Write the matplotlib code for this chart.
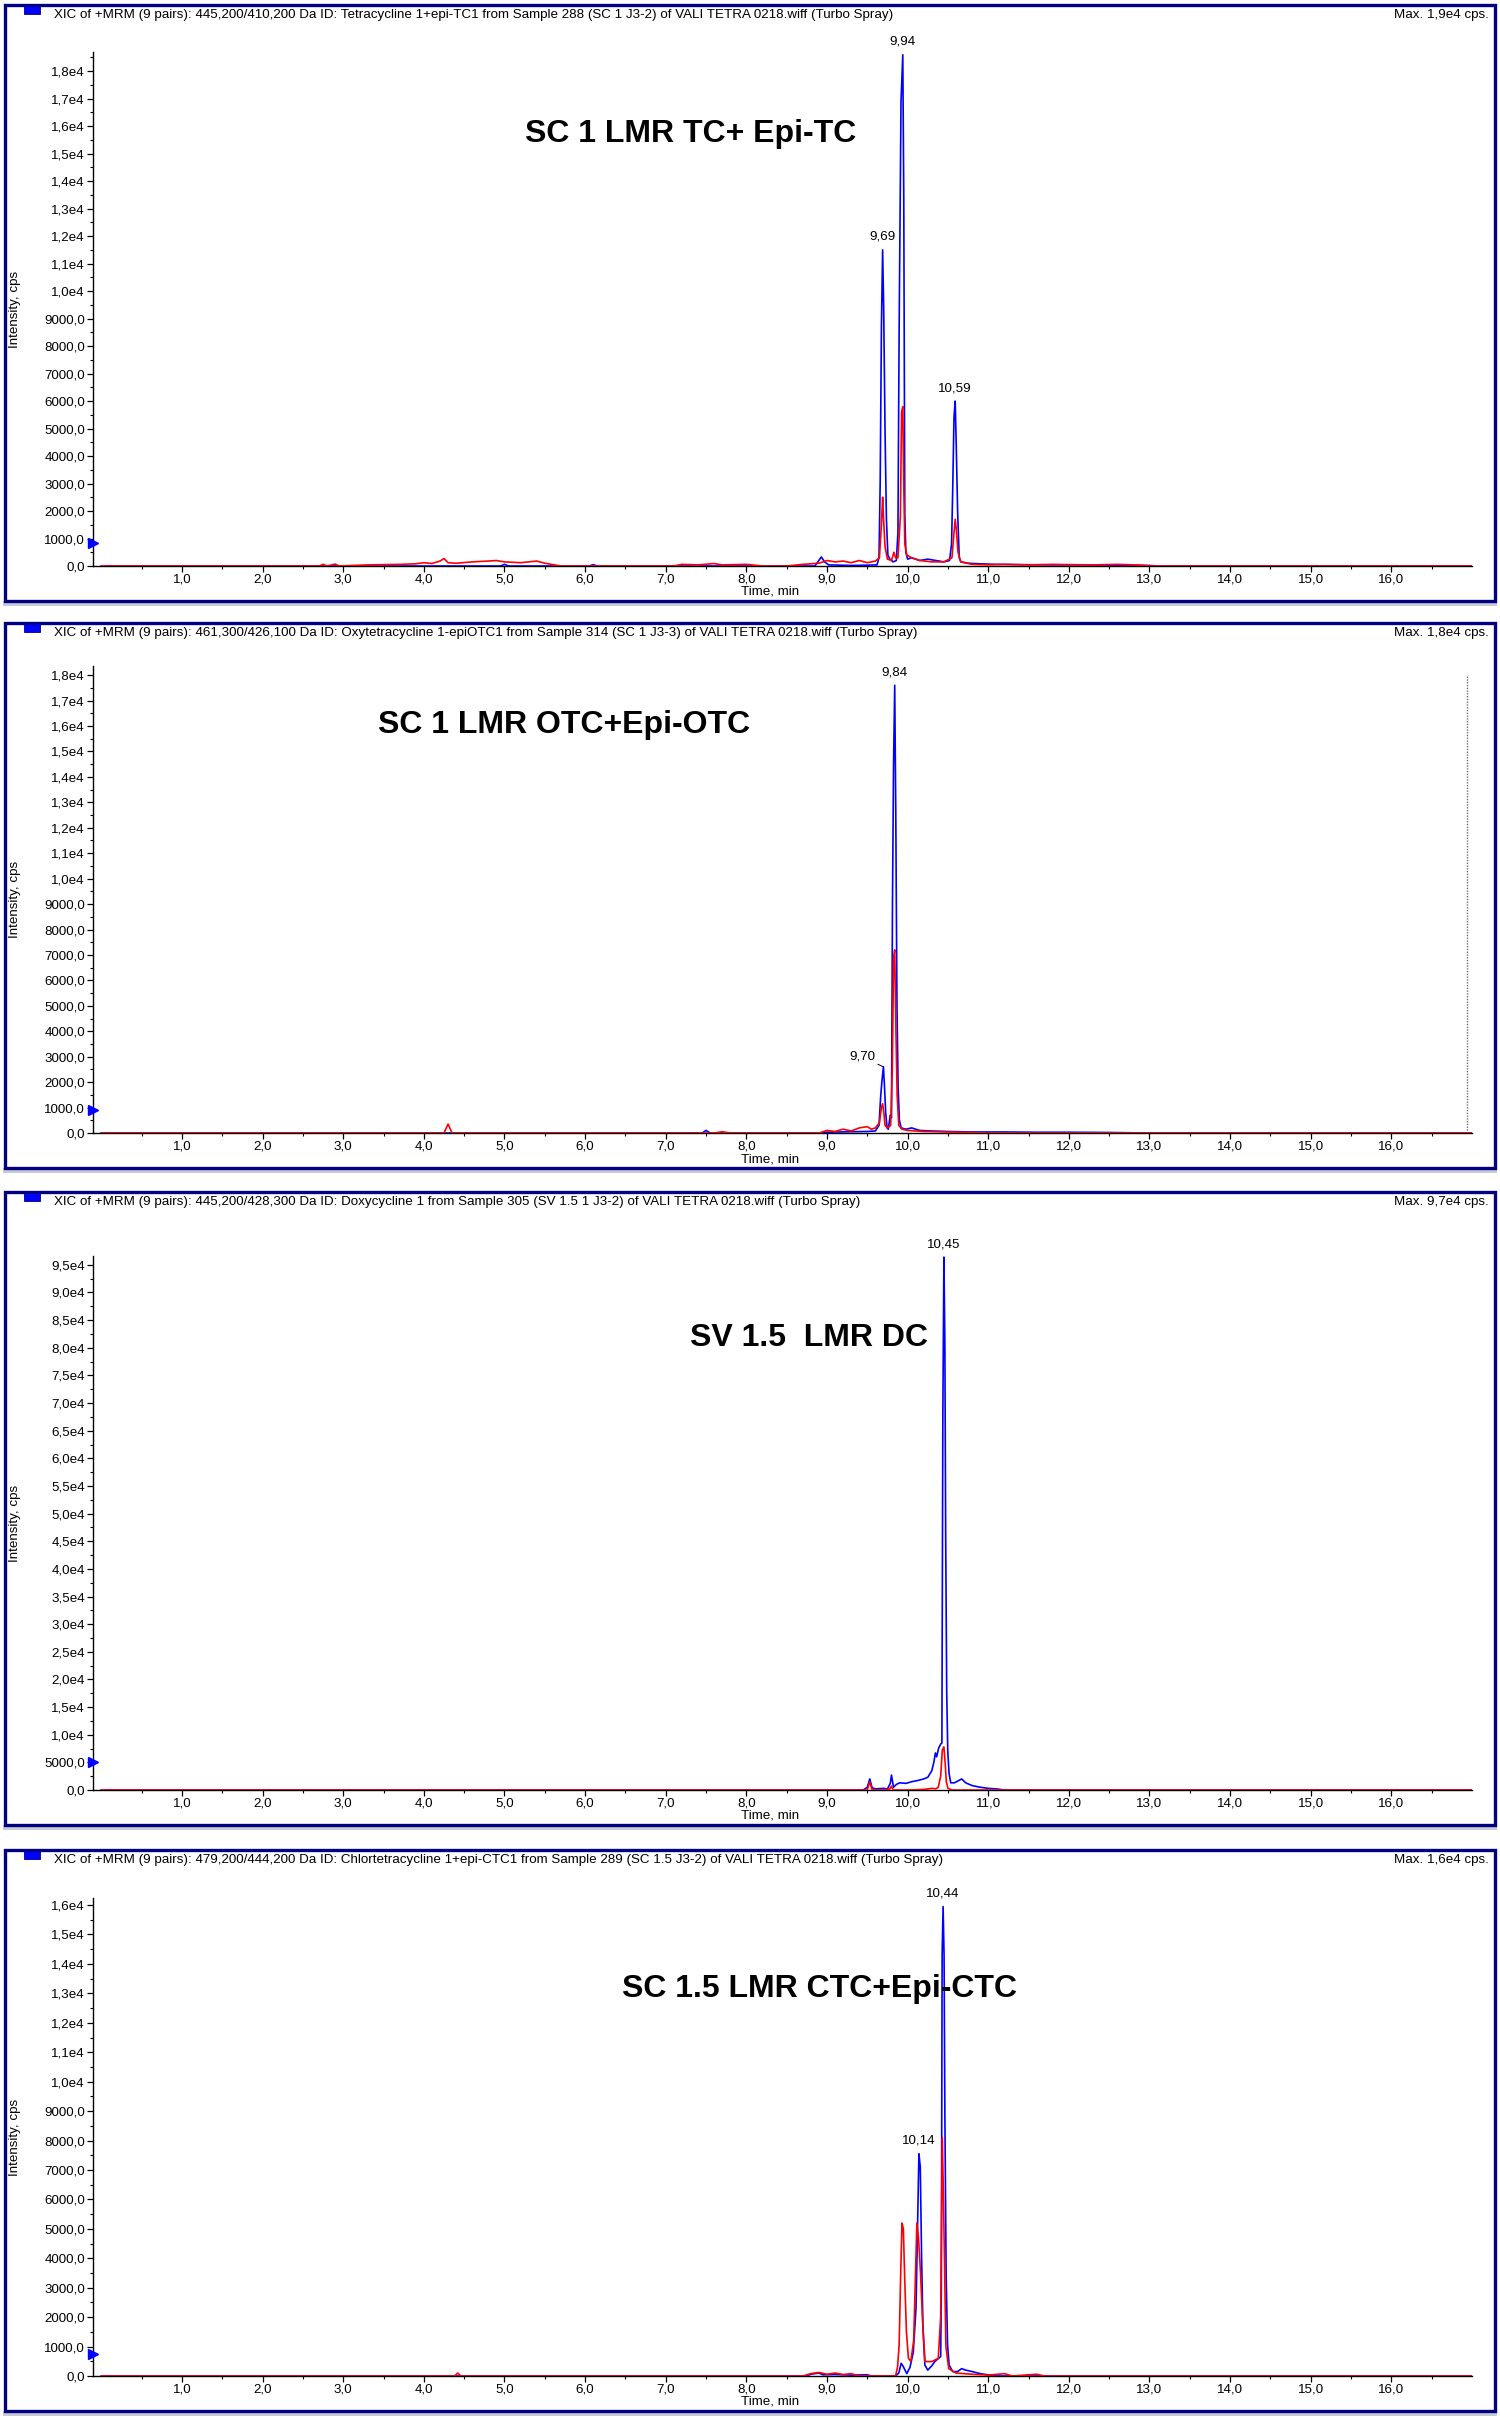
import matplotlib
matplotlib.use("Agg")
import matplotlib.pyplot as plt
from matplotlib.patches import Rectangle
from matplotlib.ticker import FixedLocator, MultipleLocator, FuncFormatter

plt.rcParams['font.family'] = ['Liberation Sans', 'DejaVu Sans']

W, H = 1500, 2418

# ---- data (time in min, intensity in cps) ----
titles = [
    "XIC of +MRM (9 pairs): 445,200/410,200 Da ID: Tetracycline 1+epi-TC1 from Sample 288 (SC 1 J3-2) of VALI TETRA 0218.wiff (Turbo Spray)",
    "XIC of +MRM (9 pairs): 461,300/426,100 Da ID: Oxytetracycline 1-epiOTC1 from Sample 314 (SC 1 J3-3) of VALI TETRA 0218.wiff (Turbo Spray)",
    "XIC of +MRM (9 pairs): 445,200/428,300 Da ID: Doxycycline 1 from Sample 305 (SV 1.5 1 J3-2) of VALI TETRA 0218.wiff (Turbo Spray)",
    "XIC of +MRM (9 pairs): 479,200/444,200 Da ID: Chlortetracycline 1+epi-CTC1 from Sample 289 (SC 1.5 J3-2) of VALI TETRA 0218.wiff (Turbo Spray)",
]
max_labels = ["Max. 1,9e4 cps.", "Max. 1,8e4 cps.", "Max. 9,7e4 cps.", "Max. 1,6e4 cps."]
sample_names = ["SC 1 LMR TC+ Epi-TC", "SC 1 LMR OTC+Epi-OTC", "SV 1.5  LMR DC", "SC 1.5 LMR CTC+Epi-CTC"]
marker_levels = [850, 900, 5000, 750]

# TC
blue_tc_t = [0.0, 4.95, 5.0, 5.05, 6.05, 6.1, 6.15, 8.85, 8.93, 8.97, 9.02, 9.3, 9.5, 9.62,
             9.645, 9.66, 9.675, 9.69, 9.703, 9.72, 9.737, 9.755, 9.78, 9.82, 9.86, 9.88,
             9.895, 9.918, 9.94, 9.952, 9.965, 9.978, 10.0, 10.05, 10.15, 10.25, 10.35, 10.45,
             10.52, 10.545, 10.56, 10.575, 10.59, 10.603, 10.62, 10.64, 10.66, 10.75, 10.9,
             11.1, 11.4, 11.8, 12.2, 12.6, 13.0, 13.1, 17.0]
blue_tc_v = [0, 0, 60, 0, 0, 50, 0, 0, 330, 150, 40, 20, 30, 40,
             300, 3100, 8700, 11500, 9400, 4900, 1700, 400, 250, 150, 200, 1200,
             8700, 16900, 18600, 13500, 1900, 500, 250, 300, 200, 250, 200, 150,
             200, 800, 2900, 5400, 6000, 4400, 2000, 300, 150, 100, 80,
             60, 50, 40, 40, 30, 20, 0, 0]
red_tc_t = [0.0, 2.7, 2.75, 2.8, 2.9, 2.95, 3.3, 3.5, 3.7, 3.9, 4.0, 4.1, 4.2, 4.25, 4.3,
            4.4, 4.6, 4.8, 4.9, 5.0, 5.2, 5.4, 5.5, 5.6, 5.7, 7.1, 7.2, 7.4, 7.6, 7.7, 8.0,
            8.2, 8.5, 8.7, 8.9, 9.0, 9.1, 9.2, 9.3, 9.4, 9.5, 9.6, 9.65, 9.675, 9.69, 9.70,
            9.72, 9.75, 9.8, 9.83, 9.85, 9.88, 9.91, 9.925, 9.94, 9.952, 9.965, 9.99, 10.05,
            10.15, 10.3, 10.45, 10.55, 10.575, 10.59, 10.605, 10.625, 10.66, 10.8, 11.0,
            11.2, 11.5, 11.8, 12.0, 12.3, 12.6, 12.9, 13.0, 17.0]
red_tc_v = [0, 0, 60, 0, 70, 0, 40, 50, 60, 80, 120, 90, 180, 270, 120,
            100, 150, 180, 200, 150, 120, 180, 100, 50, 0, 0, 60, 40, 90, 40, 60,
            0, 0, 60, 100, 200, 150, 180, 120, 200, 120, 180, 300, 1500, 2500, 1800,
            700, 250, 200, 500, 300, 300, 1800, 5600, 5800, 3000, 800, 400, 300,
            200, 150, 150, 300, 1200, 1700, 1300, 500, 150, 60, 40,
            60, 40, 60, 50, 40, 60, 30, 0, 0]

# OTC
blue_otc_t = [0.0, 7.45, 7.5, 7.55, 8.9, 9.0, 9.3, 9.5, 9.6, 9.645, 9.665, 9.68, 9.70, 9.712,
              9.728, 9.745, 9.76, 9.785, 9.80, 9.812, 9.825, 9.84, 9.853, 9.868, 9.882, 9.898,
              9.92, 9.98, 10.05, 10.15, 10.3, 10.5, 10.8, 11.2, 11.6, 12.0, 12.5, 13.0, 17.0]
blue_otc_v = [0, 0, 100, 0, 0, 30, 50, 60, 80, 300, 1400, 2000, 2600, 1900,
              800, 200, 150, 700, 600, 8900, 14400, 17600, 12600, 5000, 1800, 500,
              200, 150, 200, 100, 80, 60, 40, 40, 30, 30, 20, 0, 0]
red_otc_t = [0.0, 4.25, 4.3, 4.35, 7.6, 7.7, 7.8, 8.9, 9.0, 9.1, 9.2, 9.3, 9.4, 9.5, 9.55,
             9.6, 9.65, 9.675, 9.69, 9.705, 9.72, 9.75, 9.79, 9.81, 9.826, 9.84, 9.855, 9.87,
             9.89, 9.93, 10.0, 10.2, 10.5, 10.8, 11.0, 17.0]
red_otc_v = [0, 0, 350, 0, 0, 50, 0, 0, 100, 60, 150, 80, 200, 250, 150,
             200, 400, 1000, 1150, 800, 300, 200, 300, 2500, 6900, 7200, 4000, 1500,
             300, 150, 100, 60, 40, 20, 0, 0]

# DC
blue_dc_t = [0.0, 9.45, 9.5, 9.53, 9.56, 9.6, 9.7, 9.75, 9.785, 9.80, 9.825, 9.86, 9.9, 9.98,
             10.05, 10.12, 10.2, 10.25, 10.3, 10.325, 10.345, 10.36, 10.385, 10.41, 10.425,
             10.437, 10.45, 10.462, 10.472, 10.485, 10.498, 10.514, 10.535, 10.58, 10.62,
             10.67, 10.72, 10.8, 10.9, 11.0, 11.1, 11.2, 17.0]
blue_dc_v = [0, 0, 500, 2000, 400, 200, 300, 200, 1200, 2700, 500, 1000, 1300, 1200,
             1500, 1700, 2000, 2300, 3500, 5000, 6700, 6000, 7600, 8300, 8500,
             68000, 96400, 81000, 46000, 17600, 7000, 3000, 1300, 1300, 1600,
             2000, 1300, 800, 500, 300, 200, 0, 0]
red_dc_t = [0.0, 9.5, 9.53, 9.56, 9.7, 9.78, 9.8, 9.82, 10.0, 10.2, 10.3, 10.35, 10.38, 10.41,
            10.43, 10.45, 10.465, 10.48, 10.5, 10.55, 17.0]
red_dc_v = [0, 0, 1500, 0, 0, 200, 700, 0, 0, 100, 300, 200, 500, 2500,
            7200, 7800, 5000, 1500, 300, 0, 0]

# CTC
blue_ctc_t = [0.0, 8.75, 8.8, 8.9, 8.95, 9.1, 9.3, 9.5, 9.55, 9.85, 9.89, 9.92, 9.94, 9.99,
              10.03, 10.07, 10.104, 10.124, 10.14, 10.157, 10.173, 10.19, 10.214, 10.25, 10.3,
              10.34, 10.41, 10.418, 10.428, 10.44, 10.452, 10.462, 10.478, 10.495, 10.515,
              10.56, 10.62, 10.67, 10.72, 10.8, 10.9, 11.0, 11.1, 17.0]
blue_ctc_v = [0, 0, 60, 100, 40, 50, 30, 40, 0, 0, 100, 430, 350, 80,
              300, 800, 2300, 5200, 7550, 7100, 4100, 1650, 370, 200, 350,
              500, 660, 2900, 14300, 15950, 14300, 8900, 3400, 1070, 370,
              150, 150, 250, 200, 150, 80, 40, 0, 0]
red_ctc_t = [0.0, 4.38, 4.42, 4.46, 8.7, 8.8, 8.9, 9.0, 9.1, 9.2, 9.3, 9.4, 9.85, 9.875,
             9.895, 9.915, 9.93, 9.947, 9.963, 9.985, 10.01, 10.04, 10.075, 10.115, 10.135,
             10.16, 10.185, 10.215, 10.3, 10.38, 10.41, 10.43, 10.445, 10.46, 10.475, 10.51,
             10.6, 10.8, 11.0, 11.2, 11.3, 11.6, 11.7, 12.0, 17.0]
red_ctc_v = [0, 0, 100, 0, 0, 80, 120, 60, 100, 50, 80, 0, 0, 300,
             1070, 3600, 5200, 5000, 3400, 1500, 600, 500, 1200, 5200, 4700,
             3500, 1900, 490, 490, 600, 2000, 8100, 6000, 3400, 1000, 250,
             100, 60, 30, 80, 0, 60, 0, 0, 0]

peak_labels = [
    [(9.69, 11500, "9,69"), (9.94, 18600, "9,94"), (10.59, 6000, "10,59")],
    [(9.84, 17600, "9,84")],
    [(10.45, 96400, "10,45")],
    [(10.14, 7550, "10,14"), (10.44, 15950, "10,44")],
]
otc_side_label = (9.70, 2600, "9,70")
otc_cursor_t = 16.94

# ---- layout in pixels ----
frames = [(5, 601), (623, 1168), (1192, 1825), (1850, 2411)]
axes_px = [(566, 52, 18700), (1133, 666, 18360), (1790, 1256, 96600), (2376, 1898, 16240)]
major_step = [1000, 1000, 5000, 1000]
ax_left, ax_right = 92.5, 1472
NAVY = '#000080'
FS = 9.6


def fx(x):
    return x / W


def fy(y):
    return 1 - y / H


def ylab(v, pos):
    if v >= 10000:
        return ("%.1fe4" % (v / 1e4)).replace('.', ',')
    return ("%.1f" % v).replace('.', ',')


fig = plt.figure(figsize=(W / 100, H / 100), dpi=100)

traces = [
    (blue_tc_t, blue_tc_v, red_tc_t, red_tc_v),
    (blue_otc_t, blue_otc_v, red_otc_t, red_otc_v),
    (blue_dc_t, blue_dc_v, red_dc_t, red_dc_v),
    (blue_ctc_t, blue_ctc_v, red_ctc_t, red_ctc_v),
]

for i in range(4):
    ftop, fbot = frames[i]
    # shadow + frame
    fig.patches.append(Rectangle((fx(3), fy(fbot + 5)), fx(1494), 5 / H,
                                 transform=fig.transFigure, facecolor='#c9cbd4',
                                 edgecolor='none', zorder=-2))
    fig.patches.append(Rectangle((fx(5), fy(fbot)), fx(1490), (fbot - ftop) / H,
                                 transform=fig.transFigure, facecolor='white',
                                 edgecolor=NAVY, linewidth=2.4, zorder=-1))
    # blue square + header
    fig.patches.append(Rectangle((fx(24), fy(ftop + 9)), fx(16), 8 / H,
                                 transform=fig.transFigure, facecolor='#0000ff',
                                 edgecolor=NAVY, linewidth=0.6, zorder=2))
    fig.text(fx(54), fy(ftop + 10), titles[i], fontsize=FS, va='center', ha='left')
    fig.text(fx(1489), fy(ftop + 10), max_labels[i], fontsize=FS, va='center', ha='right')

    zero_px, top_px, ymax = axes_px[i]
    ax = fig.add_axes([fx(ax_left), fy(zero_px), fx(ax_right - ax_left), (zero_px - top_px) / H])
    ax.set_zorder(3)
    ax.patch.set_alpha(0)
    bt, bv, rt, rv = traces[i]
    ax.plot(bt, bv, color='#0000ff', lw=1.2, zorder=3)
    ax.plot(rt, rv, color='#ff0000', lw=1.2, zorder=4)

    ax.set_xlim(-0.11, 17.0)
    ax.set_ylim(0, ymax)
    for s in ('top', 'right'):
        ax.spines[s].set_visible(False)
    for s in ('left', 'bottom'):
        ax.spines[s].set_linewidth(1.0)

    ax.xaxis.set_major_locator(FixedLocator(list(range(1, 17))))
    ax.xaxis.set_minor_locator(FixedLocator([k + 0.5 for k in range(0, 17)]))
    ax.xaxis.set_major_formatter(FuncFormatter(lambda v, p: ("%.1f" % v).replace('.', ',')))
    ax.yaxis.set_major_locator(MultipleLocator(major_step[i]))
    ax.yaxis.set_minor_locator(MultipleLocator(major_step[i] / 2))
    ax.yaxis.set_major_formatter(FuncFormatter(ylab))
    ax.tick_params(which='major', length=4, width=0.9, pad=1.5, labelsize=FS, direction='out')
    ax.tick_params(which='minor', length=2, width=0.8, direction='out')

    # small marker on the y axis
    ax.plot([0], [marker_levels[i]], marker='>', color='#0000ff', markersize=7,
            transform=ax.get_yaxis_transform(), clip_on=False, zorder=5)

    for (t, v, lab) in peak_labels[i]:
        ax.annotate(lab, xy=(t, v), xytext=(0, 5), textcoords='offset points',
                    ha='center', va='bottom', fontsize=FS, annotation_clip=False)

    if i == 1:
        t, v, lab = otc_side_label
        ax.annotate(lab, xy=(t, v), xytext=(-6, 3), textcoords='offset points',
                    ha='right', va='bottom', fontsize=FS,
                    arrowprops=dict(arrowstyle='-', lw=0.7, color='black',
                                    shrinkA=0, shrinkB=0))
        ax.plot([otc_cursor_t, otc_cursor_t], [0, 18000], color='#707070', lw=1.0,
                linestyle=(0, (1, 1)))

    # labels
    fig.text(fx(15), fy((zero_px + top_px) / 2), "Intensity, cps", rotation=90,
             fontsize=FS, va='center', ha='center')
    fig.text(fx(770), fy(zero_px + 26), "Time, min", fontsize=FS, va='center', ha='center')

    fig.text(fx([691, 564, 809, 819][i]), fy([134, 725, 1338, 1989][i]), sample_names[i],
             fontsize=23, fontweight='bold', va='center', ha='center')

fig.savefig("out.png", dpi=100)
